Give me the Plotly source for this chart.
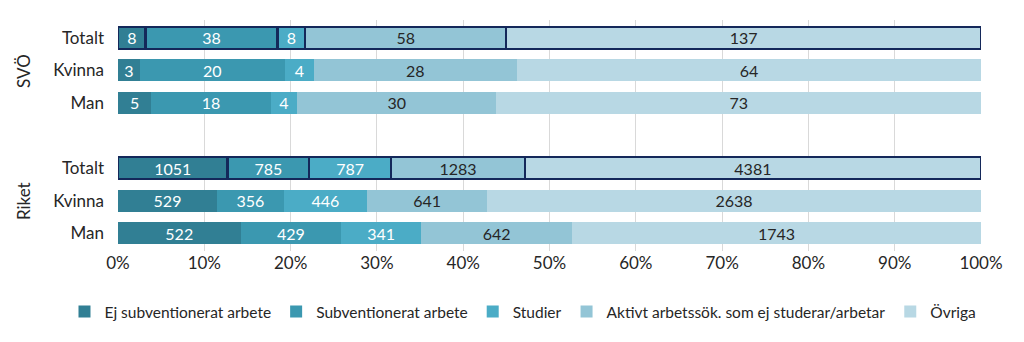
import plotly.graph_objects as go

series = ["Ej subventionerat arbete", "Subventionerat arbete", "Studier",
          "Aktivt arbetssök. som ej studerar/arbetar", "Övriga"]
colors = ["#317F94", "#3B98B0", "#4BACC6", "#93C5D6", "#B8D8E4"]
text_colors = ["white", "white", "white", "#262626", "#262626"]

rows = ["Totalt", "Kvinna", "Man", "Totalt", "Kvinna", "Man"]
groups = ["SVÖ", "Riket"]
row_pos = [0, 1, 2, 4, 5, 6]
is_total = [True, False, False, True, False, False]

values = {
    "Ej subventionerat arbete": [8, 3, 5, 1051, 529, 522],
    "Subventionerat arbete": [38, 20, 18, 785, 356, 429],
    "Studier": [8, 4, 4, 787, 446, 341],
    "Aktivt arbetssök. som ej studerar/arbetar": [58, 28, 30, 1283, 641, 642],
    "Övriga": [137, 64, 73, 4381, 2638, 1743],
}

totals = [sum(values[s][i] for s in series) for i in range(len(rows))]
FONT = "Lato, Open Sans, sans-serif"

fig = go.Figure()
for s, c, tc in zip(series, colors, text_colors):
    pct = [v / t * 100 for v, t in zip(values[s], totals)]
    fig.add_trace(go.Bar(
        y=row_pos, x=pct, name=s, orientation="h", showlegend=False,
        marker=dict(color=c,
                    line=dict(color=["#14285A" if t else c for t in is_total],
                              width=[2.5 if t else 0 for t in is_total])),
        text=[str(v) for v in values[s]], textposition="inside",
        insidetextanchor="middle", textangle=0, constraintext="none",
        textfont=dict(color=tc, size=16, family=FONT),
        width=0.68, hoverinfo="skip",
    ))
# legend-only entries
for s, c in zip(series, colors):
    fig.add_trace(go.Bar(y=[None], x=[None], name=s, orientation="h",
                         marker=dict(color=c, line=dict(width=0)), showlegend=True))

fig.update_layout(
    barmode="stack", width=1024, height=342,
    margin=dict(l=118, r=43, t=20, b=91),
    paper_bgcolor="white", plot_bgcolor="white",
    font=dict(family=FONT, size=17, color="#262626"),
    xaxis=dict(range=[0, 100], tickvals=list(range(0, 101, 10)),
               ticktext=[f"{v}%" for v in range(0, 101, 10)],
               showgrid=True, gridcolor="#D9D9D9", gridwidth=1,
               zeroline=False, showline=False, ticks="", tickfont=dict(size=17)),
    yaxis=dict(tickvals=row_pos, ticktext=rows, autorange=False, range=[6.55, -0.55],
               showgrid=False, zeroline=False, ticks="", ticklabelstandoff=13,
               tickfont=dict(size=17)),
    legend=dict(orientation="h", x=-0.062, xanchor="left", y=-0.264, yanchor="middle",
                font=dict(size=15.5), traceorder="normal", itemwidth=30),
)

for g, ypos in zip(groups, [1, 5]):
    fig.add_annotation(text=g, x=-0.124, xref="paper", y=ypos, yref="y",
                       textangle=-90, showarrow=False,
                       font=dict(size=17, color="#262626"))

fig.write_html("out.html")
